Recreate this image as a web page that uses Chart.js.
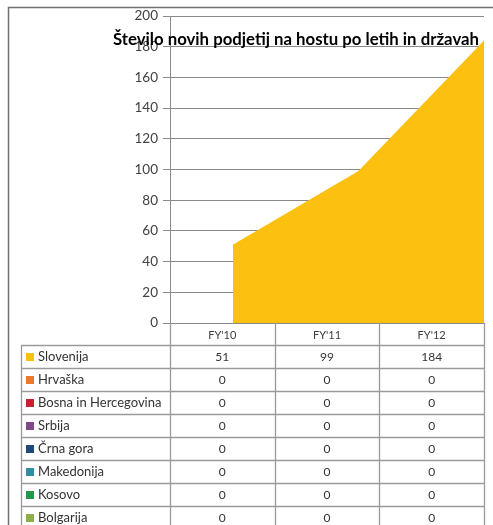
<!DOCTYPE html>
<html>
<head>
<meta charset="utf-8">
<script src="https://cdn.jsdelivr.net/npm/chart.js@4"></script>
<style>
  html, body { margin: 0; padding: 0; background: #fff; }
  #wrap { width: 493px; height: 525px; position: relative; }
</style>
</head>
<body>
<div id="wrap"><canvas id="chart"></canvas></div>
<script>
const title = "Število novih podjetij na hostu po letih in državah";
const years = ["FY'10", "FY'11", "FY'12"];
const countries = ["Slovenija", "Hrvaška", "Bosna in Hercegovina", "Srbija", "Črna gora", "Makedonija", "Kosovo", "Bolgarija"];
const swatches = ["#fcc010", "#ec7a2e", "#c8202c", "#7e4a8a", "#1f4a7c", "#2f8ea3", "#1f9a4c", "#8cb043"];

const slovenija = [51, 99, 184];
const hrvaska = [0, 0, 0];
const bosna = [0, 0, 0];
const srbija = [0, 0, 0];
const crnaGora = [0, 0, 0];
const makedonija = [0, 0, 0];
const kosovo = [0, 0, 0];
const bolgarija = [0, 0, 0];
const series = [slovenija, hrvaska, bosna, srbija, crnaGora, makedonija, kosovo, bolgarija];

const yMin = 0, yMax = 200, yStep = 20;

const FONT = "Lato, 'Open Sans', sans-serif";
const lineCol = "#9a9a9a";

// data table + title + outer frame drawn on top
const tablePlugin = {
  id: "dataTable",
  afterDraw(chart) {
    const ctx = chart.ctx;
    const area = chart.chartArea;
    const colW = (area.right - area.left) / years.length;
    const headTop = area.bottom;
    const rowTop = headTop + 22;
    const rowH = 23;
    const tableLeft = 21;
    const bottom = chart.height;

    ctx.save();
    ctx.strokeStyle = lineCol;
    ctx.lineWidth = 1.3;

    // vertical lines
    ctx.beginPath();
    for (let i = 0; i <= years.length; i++) {
      const x = Math.round(area.left + i * colW) + 0.5;
      ctx.moveTo(x, headTop);
      ctx.lineTo(x, bottom);
    }
    ctx.moveTo(tableLeft + 0.5, rowTop);
    ctx.lineTo(tableLeft + 0.5, bottom);
    // horizontal lines
    for (let r = 0; r <= countries.length; r++) {
      const y = Math.round(rowTop + r * rowH) + 0.5;
      ctx.moveTo(tableLeft, y);
      ctx.lineTo(area.right + 1, y);
    }
    ctx.stroke();

    // header
    ctx.fillStyle = "#404040";
    ctx.font = "11px " + FONT;
    ctx.textAlign = "center";
    ctx.textBaseline = "middle";
    years.forEach((y, i) => {
      ctx.fillText(y, area.left + (i + 0.5) * colW, headTop + 12);
    });

    // rows
    chart.data.datasets.forEach((ds, r) => {
      const cy = rowTop + r * rowH + rowH / 2 + 0.5;
      ctx.fillStyle = swatches[r];
      ctx.fillRect(26, Math.round(cy - 4), 8, 8);
      ctx.fillStyle = "#333";
      ctx.font = "13px " + FONT;
      ctx.textAlign = "left";
      ctx.fillText(ds.label, 38, cy);
      ctx.font = "12px " + FONT;
      ctx.textAlign = "center";
      ds.data.forEach((p, i) => {
        ctx.fillText(String(p.y), area.left + (i + 0.5) * colW, cy);
      });
    });

    // outer frame
    ctx.strokeStyle = "#707070";
    ctx.lineWidth = 1.5;
    ctx.beginPath();
    ctx.moveTo(8.5, chart.height);
    ctx.lineTo(8.5, 7.5);
    ctx.lineTo(chart.width, 7.5);
    ctx.stroke();

    // title over the plot
    ctx.fillStyle = "#000";
    ctx.font = "bold 16.8px " + FONT;
    ctx.textAlign = "left";
    ctx.textBaseline = "alphabetic";
    ctx.fillText(title, 113, 45, 366);
    ctx.restore();
  }
};

const datasets = countries.map((name, k) => ({
  label: name,
  data: years.map((_, i) => ({ x: i, y: series[k][i] })),
  backgroundColor: swatches[k],
  borderWidth: 0,
  pointRadius: 0,
  fill: "origin",
  tension: 0
}));

new Chart(document.getElementById("chart"), {
  type: "line",
  data: { datasets },
  options: {
    responsive: true,
    maintainAspectRatio: false,
    animation: false,
    layout: { padding: { left: 0, top: 16, right: 9, bottom: 202 } },
    plugins: { legend: { display: false }, tooltip: { enabled: false }, title: { display: false } },
    scales: {
      x: { type: "linear", min: -0.5, max: years.length - 1, display: false },
      y: {
        min: yMin, max: yMax,
        ticks: { stepSize: yStep, color: "#404040", font: { family: FONT, size: 13.5 }, padding: 5 },
        grid: { color: "#8a8a8a", lineWidth: 1, tickLength: 7 },
        border: { color: "#8a8a8a" },
        afterFit(scale) { scale.width = 170; }
      }
    }
  },
  plugins: [tablePlugin]
});
</script>
</body>
</html>
